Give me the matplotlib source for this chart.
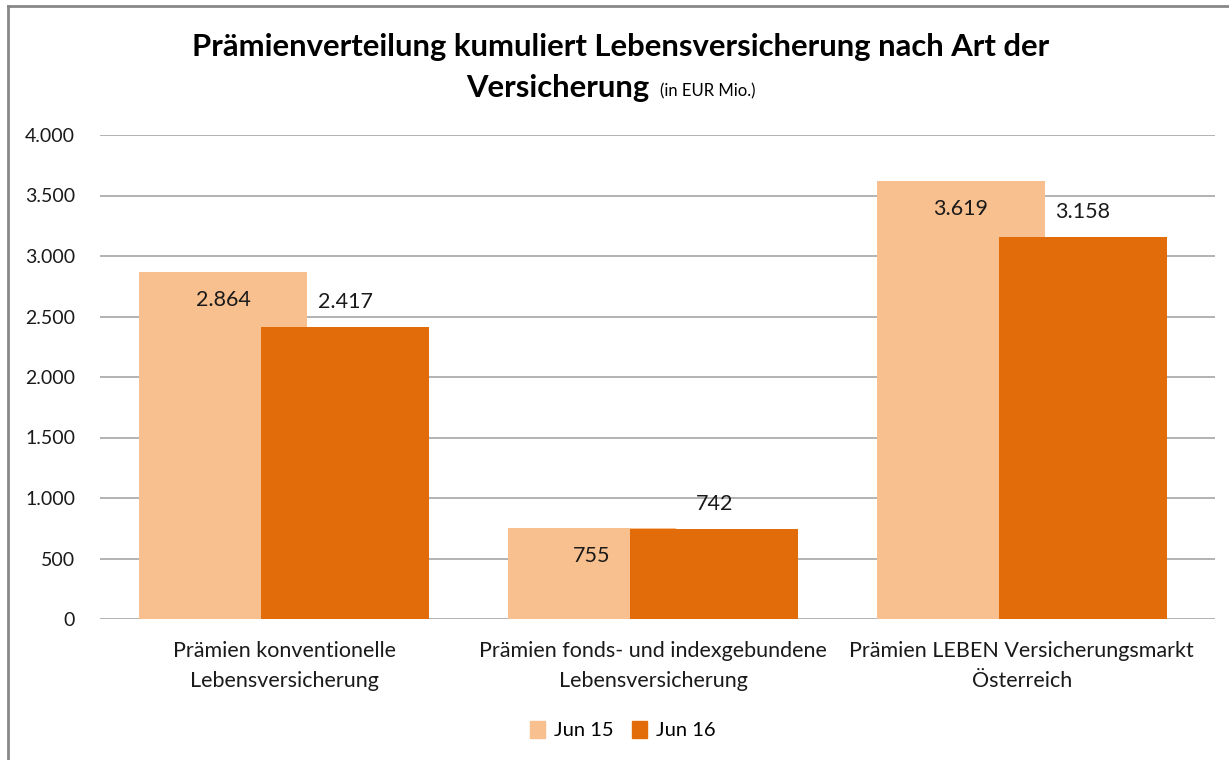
import matplotlib.pyplot as plt
import numpy as np
from matplotlib.ticker import FuncFormatter
from matplotlib.patches import Rectangle
from matplotlib.lines import Line2D

plt.rcParams['font.family'] = ['Lato', 'DejaVu Sans']

categories = ['Prämien konventionelle\nLebensversicherung',
              'Prämien fonds- und indexgebundene\nLebensversicherung',
              'Prämien LEBEN Versicherungsmarkt\nÖsterreich']
jun15 = [2864, 755, 3619]
jun16 = [2417, 742, 3158]
series_names = ['Jun 15', 'Jun 16']
yticks = [0, 500, 1000, 1500, 2000, 2500, 3000, 3500, 4000]

c_light = '#F9C08F'
c_dark = '#E36C0A'

W, H = 1229, 760
fig = plt.figure(figsize=(W / 100, H / 100), dpi=100)
ax = fig.add_axes([100 / W, 1 - 619 / H, 1115 / W, 484 / H])

x = np.arange(len(categories))
width = 0.456
off = 0.1655

def fmt(v):
    return '{:,.0f}'.format(v).replace(',', '.')

ax.bar(x - off, jun15, width, color=c_light, zorder=2)
ax.bar(x + off, jun16, width, color=c_dark, zorder=3)

for xi, v in zip(x, jun15):
    ax.annotate(fmt(v), (xi - off, v), xytext=(0, -28), textcoords='offset pixels',
                ha='center', va='center', fontsize=15.5, color='#1a1a1a', zorder=4)
for xi, v in zip(x, jun16):
    ax.annotate(fmt(v), (xi + off, v), xytext=(0, 25), textcoords='offset pixels',
                ha='center', va='center', fontsize=15.5, color='#1a1a1a', zorder=4)

ax.set_xlim(-0.5, 2.524)
ax.set_ylim(0, 4000)
ax.set_yticks(yticks)
ax.yaxis.set_major_formatter(FuncFormatter(lambda v, p: fmt(v)))
ax.grid(axis='y', color='#A6A6A6', linewidth=1.2, zorder=0)
ax.set_axisbelow(True)
for s in ax.spines.values():
    s.set_visible(False)
ax.tick_params(axis='y', length=0, pad=18, labelsize=14, labelcolor='#1a1a1a')
ax.set_xticks(x)
ax.set_xticklabels(categories, fontsize=15.5, color='#1a1a1a', linespacing=1.6)
ax.tick_params(axis='x', length=0, pad=16)

fig.text(621 / W, 1 - 47 / H, 'Prämienverteilung kumuliert Lebensversicherung nach Art der',
         ha='center', va='center', fontsize=22.3, fontweight='bold', color='black')
fig.text(649 / W, 1 - 88 / H, 'Versicherung', ha='right', va='center',
         fontsize=22.3, fontweight='bold', color='black')
fig.text(660 / W, 1 - 91 / H, '(in EUR Mio.)', ha='left', va='center',
         fontsize=12, color='black')

handles = [Rectangle((0, 0), 1, 1, color=c_light), Rectangle((0, 0), 1, 1, color=c_dark)]
fig.legend(handles, series_names, loc='center', bbox_to_anchor=(623 / W, 1 - 730 / H),
           ncol=2, frameon=False, fontsize=14.5, handlelength=0.75, handleheight=0.9,
           handletextpad=0.45, columnspacing=0.9)

# chart border (top and left visible)
fig.add_artist(Line2D([8 / W, 8 / W], [0, 1 - 6 / H], color='#888888', linewidth=2))
fig.add_artist(Line2D([8 / W, 1], [1 - 6 / H, 1 - 6 / H], color='#888888', linewidth=2))

fig.savefig('out.png', dpi=100)
